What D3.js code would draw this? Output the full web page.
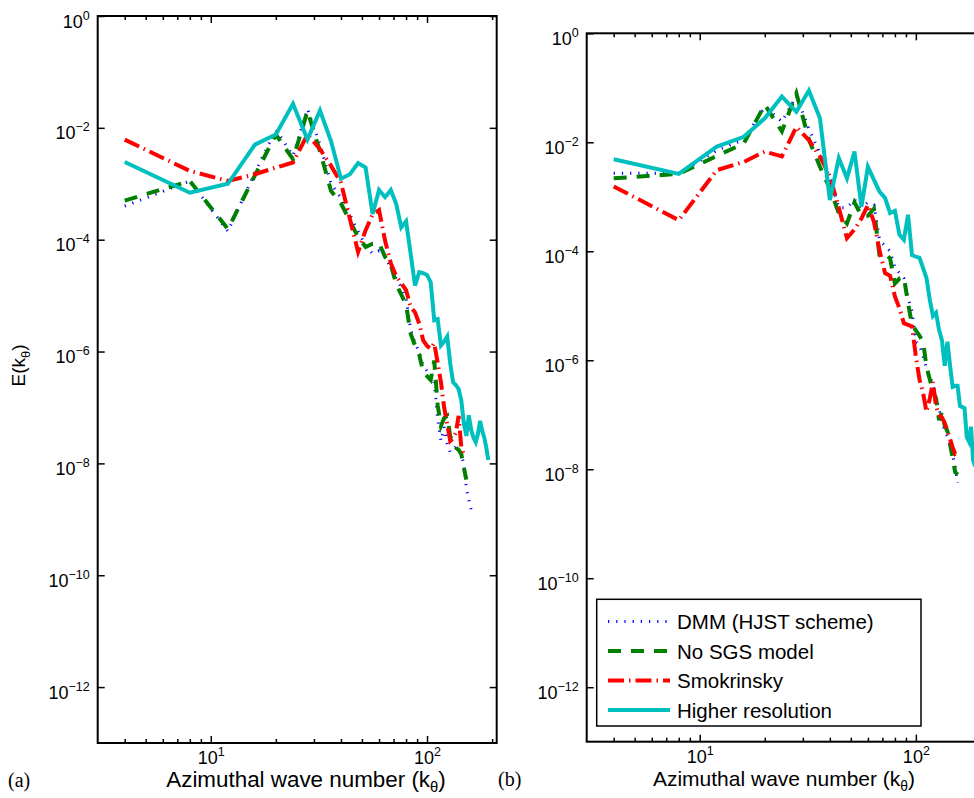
<!DOCTYPE html>
<html>
<head>
<meta charset="utf-8">
<script src="https://cdn.jsdelivr.net/npm/d3@7/dist/d3.min.js"></script>
<style>
body { margin: 0; background: #fff; }
svg { display: block; }
text { font-family: "Liberation Sans", Arial, Helvetica, sans-serif; fill: #000; }
text.tag { font-family: "Liberation Serif", "Times New Roman", serif; }
</style>
</head>
<body>
<svg id="fig" width="974" height="798"></svg>
<script>
// azimuthal wave numbers (k_theta)
var kTheta = [4, 8, 12, 16, 20, 24, 28, 32, 36, 40, 44, 48, 52, 56, 60, 64, 68, 72, 76, 80,
	84, 88, 92, 96, 100, 104, 108, 112, 116, 120, 124, 128, 132, 136, 140, 144, 148, 152, 156, 160,
	164, 168, 172, 176, 180, 184, 188, 192];

// log10 E(k_theta), panel (a)
var dmmA = [-3.40, -2.95, -3.85, -2.80, -2.03, -2.50, -1.66, -2.30, -3.00, -3.25,
	-3.55, -3.85, -4.10, -4.25, -4.20, -4.30, -4.50, -4.70, -4.85, -5.05,
	-5.60, -5.85, -6.00, -6.25, -6.35, -6.35, -6.55, -7.20, -7.60, -7.35,
	-7.65, -7.80, -7.75, -7.70, -7.75, -7.85, -8.00, -8.45, -8.65, -8.83];
var noSgsA = [-3.30, -2.95, -3.81, -2.85, -2.12, -2.56, -1.70, -2.42, -3.13, -3.35,
	-3.67, -3.95, -4.13, -4.07, -4.06, -4.31, -4.45, -4.79, -4.98, -5.16,
	-5.68, -5.89, -6.05, -6.37, -6.44, -6.51, -6.16, -6.96, -7.33, -7.19,
	-7.15, -7.51, -7.63, -7.72, -7.76, -7.83, -8.08, -8.29];
var smagA = [-2.21, -2.77, -2.95, -2.83, -2.71, -2.62, -2.12, -2.38, -2.68, -2.98,
	-3.63, -4.22, -3.83, -3.55, -3.47, -4.02, -4.42, -4.65, -4.78, -4.90,
	-5.20, -5.30, -5.50, -5.80, -5.90, -5.95, -5.85, -6.20, -6.55, -7.00,
	-7.30, -7.60, -7.55, -7.45, -7.15, -7.70, -7.85];
var hiresA = [-2.61, -3.16, -3.00, -2.30, -2.12, -1.57, -2.21, -1.69, -2.24, -2.91,
	-2.83, -2.63, -2.71, -3.54, -3.11, -3.24, -3.11, -3.36, -3.78, -3.67,
	-4.25, -4.82, -4.58, -4.60, -4.63, -4.76, -5.44, -5.42, -5.89, -5.82,
	-5.73, -6.21, -6.55, -6.60, -6.67, -6.87, -7.28, -7.51, -7.14, -7.40,
	-7.54, -7.62, -7.47, -7.24, -7.42, -7.54, -7.72, -7.94];

// panel (b)
var dmmB = [-2.57, -2.57, -2.15, -1.95, -1.35, -1.62, -1.15, -1.75, -2.20, -2.65,
	-3.20, -3.20, -3.05, -3.20, -3.10, -3.15, -3.80, -3.90, -4.00, -4.30,
	-4.40, -4.50, -4.85, -5.10, -5.66, -5.72, -5.93, -6.15, -6.30, -6.45,
	-6.68, -6.90, -7.10, -7.30, -7.40, -7.55, -7.75, -7.95, -8.25];
var noSgsB = [-2.66, -2.58, -2.25, -2.02, -1.31, -1.80, -1.10, -1.95, -2.45, -2.85,
	-3.30, -3.49, -3.10, -3.35, -3.35, -3.22, -4.10, -4.05, -4.13, -4.59,
	-4.50, -4.47, -4.95, -5.35, -5.45, -5.55, -5.66, -6.12, -6.35, -6.58,
	-6.70, -7.10, -6.95, -7.20, -7.30, -7.55, -7.80, -8.05, -8.10];
var smagB = [-2.81, -3.43, -2.51, -2.36, -2.17, -2.26, -1.72, -1.96, -2.26, -2.62,
	-3.20, -3.76, -3.60, -3.40, -3.15, -3.46, -4.00, -4.40, -4.45, -4.83,
	-5.05, -5.32, -5.35, -5.38, -5.93, -6.36, -6.60, -6.95, -6.70, -6.40,
	-6.85, -7.00, -7.05, -7.15, -7.30, -7.45, -7.60, -7.72, -7.70];
var hiresB = [-2.31, -2.58, -2.08, -1.90, -1.56, -1.16, -1.44, -1.05, -1.56, -3.06,
	-2.29, -2.66, -2.17, -3.18, -2.45, -2.69, -2.91, -3.02, -3.30, -3.26,
	-3.70, -3.79, -3.33, -4.07, -4.10, -4.12, -4.31, -4.49, -4.89, -5.19,
	-5.13, -5.44, -5.63, -6.10, -5.66, -6.10, -6.49, -6.47, -6.47, -6.84,
	-6.86, -6.88, -7.41, -7.49, -7.22, -7.83, -7.95];

var seriesNames = ["DMM (HJST scheme)", "No SGS model", "Smokrinsky", "Higher resolution"];
var yTicks = [1, 1e-2, 1e-4, 1e-6, 1e-8, 1e-10, 1e-12];
var yExps = [0, -2, -4, -6, -8, -10, -12];
var xMajor = [10, 100];
var xExps = [1, 2];
var xMinor = [4, 5, 6, 7, 8, 9, 20, 30, 40, 50, 60, 70, 80, 90, 200];

var styles = [
	{color: "#0000ff", width: 3, dash: "1.2,7"},
	{color: "#008000", width: 4, dash: "13,10"},
	{color: "#ff0000", width: 4, dash: "16,5,1.5,5"},
	{color: "#00bfbf", width: 4, dash: null}
];

var svg = d3.select("#fig");

function supLabel(sel, e) {
	sel.text(null);
	sel.append("tspan").text("10");
	sel.append("tspan").attr("dy", -8).attr("font-size", 12.5)
		.text(e < 0 ? "\u2212" + (-e) : e);
}

function paint_panel(p) {
	var x = d3.scaleLog().domain([3, 210]).range([p.left, p.right]),
			y = d3.scaleLog().domain([1e-13, 1]).range([p.bottom, p.top]);
	var g = svg.append("g");

	// lines
	var line = d3.line()
		.x(function(d) { return x(d[0]); })
		.y(function(d) { return y(Math.pow(10, d[1])); });
	p.series.forEach(function(s, i) {
		var pts = s.map(function(v, j) { return [kTheta[j], v]; });
		g.append("path")
		 .attr("d", line(pts))
		 .attr("fill", "none")
		 .attr("stroke", styles[i].color)
		 .attr("stroke-width", styles[i].width)
		 .attr("stroke-dasharray", styles[i].dash)
		 .attr("stroke-linejoin", "miter");
	});

	// ticks, inward on all four sides
	function tickGroup(axis, tx, ty) {
		var a = g.append("g").attr("transform", "translate(" + tx + "," + ty + ")").call(axis);
		a.select(".domain").remove();
		a.selectAll(".tick line").attr("stroke", "#000").attr("stroke-width", 1.5);
		return a;
	}
	var bx = tickGroup(d3.axisBottom(x).tickValues(xMajor).tickSize(-7).tickPadding(0), 0, p.bottom);
	bx.attr("font-size", 18).attr("font-family", null);
	bx.selectAll(".tick text").attr("y", 21).attr("dy", null)
		.each(function(d, i) { supLabel(d3.select(this), xExps[i]); });
	tickGroup(d3.axisBottom(x).tickValues(xMinor).tickSize(-4).tickFormat(""), 0, p.bottom);
	tickGroup(d3.axisTop(x).tickValues(xMajor).tickSize(-7).tickFormat(""), 0, p.top);
	tickGroup(d3.axisTop(x).tickValues(xMinor).tickSize(-4).tickFormat(""), 0, p.top);

	var ly = tickGroup(d3.axisLeft(y).tickValues(yTicks).tickSize(-7), p.left, 0);
	ly.attr("font-size", 18).attr("font-family", null);
	ly.selectAll(".tick text").attr("x", -8).attr("y", 11).attr("dy", null)
		.each(function(d, i) { supLabel(d3.select(this), yExps[i]); });
	tickGroup(d3.axisRight(y).tickValues(yTicks).tickSize(-7).tickFormat(""), p.right, 0);

	// box
	g.append("rect")
	 .attr("x", p.left).attr("y", p.top)
	 .attr("width", p.right - p.left).attr("height", p.bottom - p.top)
	 .attr("fill", "none").attr("stroke", "#000").attr("stroke-width", 2);

	// x title
	var t = g.append("text")
		.attr("x", p.titleX).attr("y", p.bottom + 44)
		.attr("text-anchor", "middle").attr("font-size", p.titleSize);
	t.append("tspan").text("Azimuthal wave number (k");
	t.append("tspan").attr("dy", 5).attr("font-size", p.titleSize * 0.66).text("\u03b8");
	t.append("tspan").attr("dy", -5).text(")");

	g.append("text")
	 .attr("class", "tag")
	 .attr("x", p.tagX).attr("y", p.bottom + 44)
	 .attr("font-size", 20)
	 .text(p.tag);

	if (p.ylabel) {
		var yl = g.append("text")
			.attr("transform", "translate(25," + ((p.top + p.bottom) / 2 - 14) + ") rotate(-90)")
			.attr("text-anchor", "middle").attr("font-size", 19);
		yl.append("tspan").text("E(k");
		yl.append("tspan").attr("dy", 5).attr("font-size", 13).text("\u03b8");
		yl.append("tspan").attr("dy", -5).text(")");
	}

	if (p.legend) {
		var lg = g.append("g");
		lg.append("rect")
		  .attr("x", 596.7).attr("y", 599.3).attr("width", 324.3).attr("height", 126.7)
		  .attr("fill", "#fff").attr("stroke", "#000").attr("stroke-width", 1.5);
		seriesNames.forEach(function(name, i) {
			var cy = 621.5 + i * 29.5;
			lg.append("line")
			  .attr("x1", 608).attr("x2", 670).attr("y1", cy).attr("y2", cy)
			  .attr("stroke", styles[i].color)
			  .attr("stroke-width", styles[i].width)
			  .attr("stroke-dasharray", styles[i].dash);
			lg.append("text")
			  .attr("x", 677).attr("y", cy + 7.5)
			  .attr("font-size", 20.5)
			  .text(name);
		});
	}
}

paint_panel({left: 97.7, right: 496.7, top: 16, bottom: 743, titleX: 306, titleSize: 22.4,
	series: [dmmA, noSgsA, smagA, hiresA], tag: "(a)", tagX: 8, ylabel: true, legend: false});
paint_panel({left: 586.7, right: 985.5, top: 33.3, bottom: 741.7, titleX: 784, titleSize: 21,
	series: [dmmB, noSgsB, smagB, hiresB], tag: "(b)", tagX: 498, ylabel: false, legend: true});
</script>
</body>
</html>
